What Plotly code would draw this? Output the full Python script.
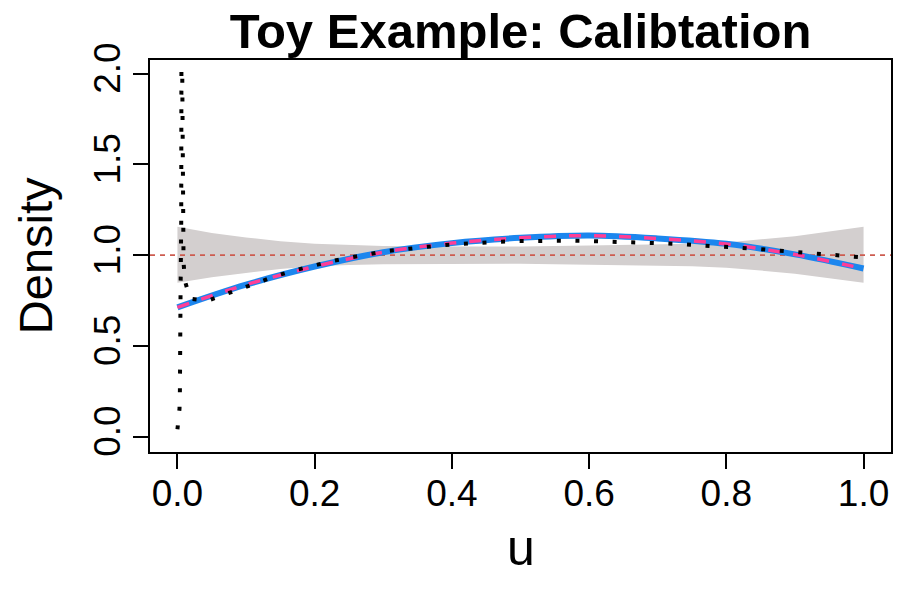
import plotly.graph_objects as go

# ---- data ----
u_grid = [0.0, 0.05, 0.1, 0.15, 0.2, 0.25, 0.3, 0.4, 0.5, 0.6, 0.7, 0.75, 0.8, 0.85, 0.9, 0.95, 1.0]
band_upper = [1.156, 1.122, 1.097, 1.076, 1.062, 1.054, 1.050, 1.048, 1.048, 1.053, 1.058, 1.062, 1.070, 1.085, 1.104, 1.130, 1.156]
band_lower = [0.847, 0.878, 0.903, 0.924, 0.938, 0.946, 0.950, 0.952, 0.952, 0.947, 0.942, 0.938, 0.930, 0.915, 0.897, 0.870, 0.847]

u_fit = [0.0, 0.1, 0.2, 0.3, 0.4, 0.5, 0.6, 0.7, 0.8, 0.9, 1.0]
fit_blue = [0.712, 0.837, 0.937, 1.016, 1.066, 1.095, 1.108, 1.092, 1.062, 1.004, 0.926]
fit_pink = [0.712, 0.837, 0.937, 1.016, 1.066, 1.095, 1.107, 1.091, 1.061, 1.003, 0.926]

u_dens = [0.0, 0.003, 0.0036, 0.004, 0.0045, 0.0045, 0.0055, 0.0055, 0.0058,
          0.007, 0.008, 0.008, 0.0089, 0.0109, 0.0186, 0.0434, 0.0686, 0.0943,
          0.1205, 0.146, 0.172, 0.199, 0.225, 0.252, 0.279, 0.305, 0.333, 0.36,
          0.387, 0.414, 0.441, 0.468, 0.496, 0.523, 0.55, 0.577, 0.605, 0.632,
          0.66, 0.687, 0.714, 0.741, 0.769, 0.796, 0.823, 0.85, 0.877, 0.905,
          0.932, 0.959, 0.986, 1.0]
dens = [0.04, 0.153, 0.256, 0.359, 0.565, 0.774, 1.18, 2.0, 2.03,
        2.0, 1.165, 1.066, 0.961, 0.857, 0.759, 0.748, 0.783, 0.82,
        0.857, 0.888, 0.917, 0.945, 0.967, 0.987, 1.006, 1.022, 1.033, 1.046,
        1.055, 1.062, 1.07, 1.073, 1.077, 1.079, 1.079, 1.079, 1.077, 1.075,
        1.073, 1.07, 1.064, 1.059, 1.053, 1.048, 1.04, 1.033, 1.024, 1.017,
        1.009, 1.0, 0.991, 0.987]

ref_level = 1.0
x_range = [-0.04, 1.04]
y_range = [-0.085, 2.075]
x_ticks = [0.0, 0.2, 0.4, 0.6, 0.8, 1.0]
x_ticktext = ["0.0", "0.2", "0.4", "0.6", "0.8", "1.0"]
y_ticks = [0.0, 0.5, 1.0, 1.5, 2.0]
y_ticktext = ["0.0", "0.5", "1.0", "1.5", "2.0"]

FONT = "Liberation Sans, Arial, Helvetica, sans-serif"

fig = go.Figure()

# confidence band
fig.add_trace(go.Scatter(
    x=u_grid + u_grid[::-1], y=band_upper + band_lower[::-1],
    fill="toself", fillcolor="#D3CFCF", line=dict(width=0),
    mode="lines", hoverinfo="skip", showlegend=False))

# reference line at 1
fig.add_trace(go.Scatter(
    x=x_range, y=[ref_level, ref_level], mode="lines",
    line=dict(color="#CD5C50", width=1.6, dash="5px,5px"),
    showlegend=False))

# blue fit
fig.add_trace(go.Scatter(
    x=u_fit, y=fit_blue, mode="lines", line_shape="spline",
    line=dict(color="#1C86EE", width=6), showlegend=False))

# pink dashed fit
fig.add_trace(go.Scatter(
    x=u_fit, y=fit_pink, mode="lines", line_shape="spline",
    line=dict(color="#FF3E96", width=3.5, dash="12px,13px"), showlegend=False))

# dotted density estimate
fig.add_trace(go.Scatter(
    x=u_dens, y=dens, mode="lines",
    line=dict(color="black", width=4, dash="4px,14.6px"), showlegend=False))

axis_common = dict(
    showline=True, mirror=True, linecolor="black", linewidth=1.5,
    ticks="outside", ticklen=15, tickwidth=1.5, tickcolor="black",
    showgrid=False, zeroline=False, automargin=False,
    tickfont=dict(family=FONT, size=37, color="black"),
)

fig.update_layout(
    width=900, height=600,
    margin=dict(l=150, r=9, t=60, b=148),
    paper_bgcolor="white", plot_bgcolor="white",
    title=dict(text="<b>Toy Example: Calibtation</b>", x=520.5 / 900, xanchor="center",
               y=1 - 31 / 600, yanchor="middle",
               font=dict(family=FONT, size=49, color="black")),
    xaxis=dict(range=x_range, tickvals=x_ticks, ticktext=x_ticktext,
               ticklabelstandoff=-7, **axis_common),
    yaxis=dict(range=y_range, tickvals=y_ticks, ticktext=y_ticktext, tickangle=-90,
               ticklabelstandoff=-2, **axis_common),
    annotations=[
        dict(text="u", xref="paper", yref="paper", x=0.5, y=-0.245,
             xanchor="center", yanchor="middle", showarrow=False,
             font=dict(family=FONT, size=50, color="black")),
        dict(text="Density", xref="paper", yref="paper", x=-0.155, y=0.5,
             xanchor="center", yanchor="middle", showarrow=False, textangle=-90,
             font=dict(family=FONT, size=47, color="black")),
    ],
)

fig.write_html("out.html")
